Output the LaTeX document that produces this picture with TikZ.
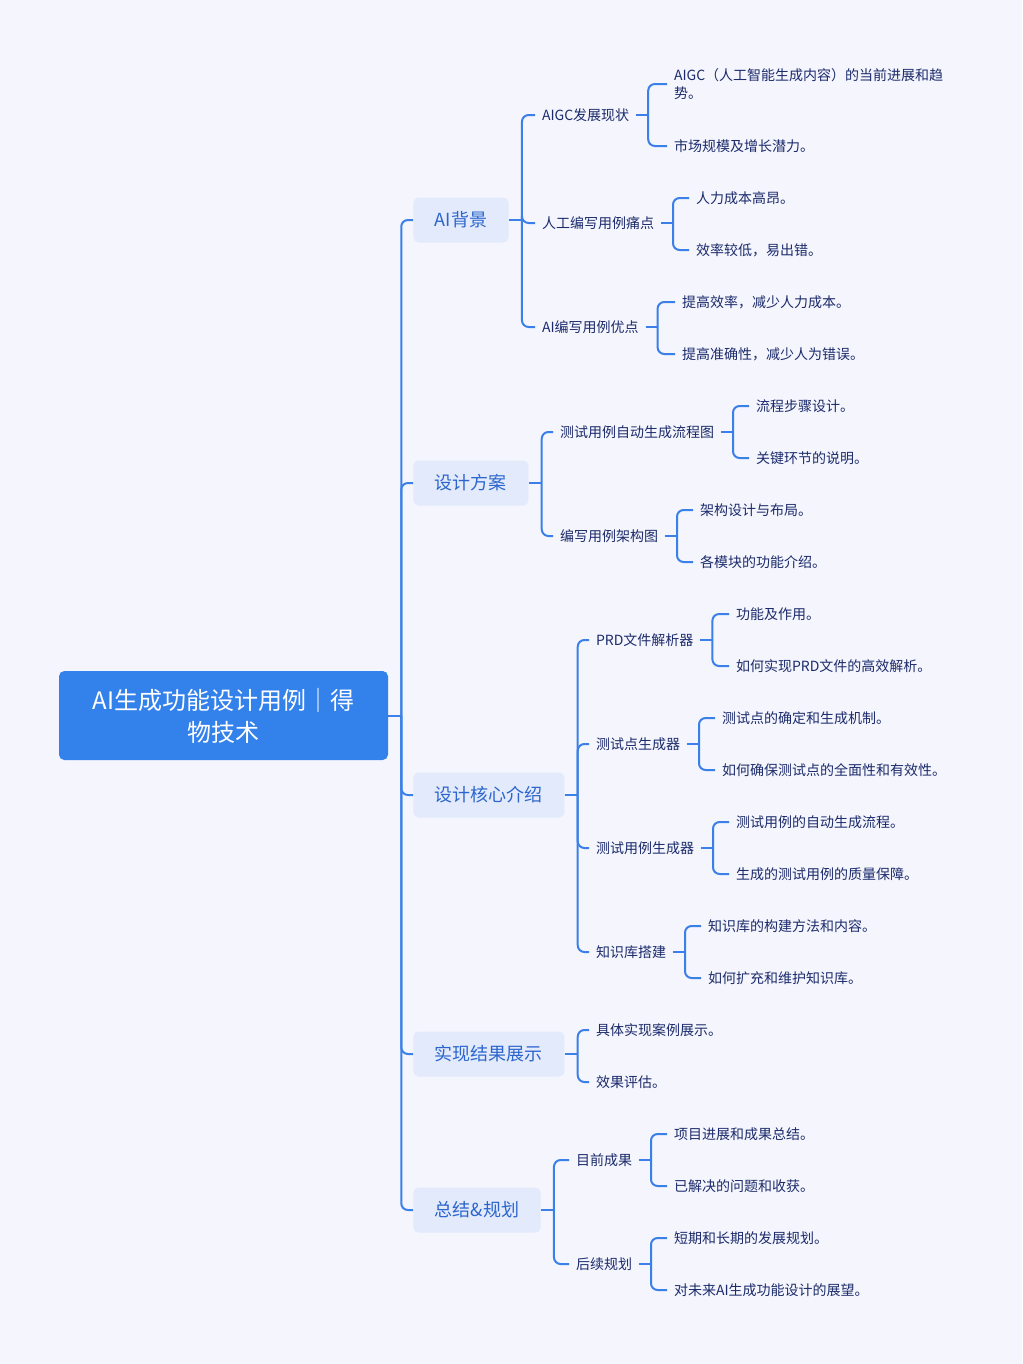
\documentclass[tikz,border=0pt]{standalone}
\usepackage{fontspec}
\setmainfont{Noto Sans CJK SC}
\usetikzlibrary{positioning}
\definecolor{pagebg}{HTML}{F4F5FD}
\definecolor{rootblue}{HTML}{3381EB}
\definecolor{linkblue}{HTML}{3A80E8}
\definecolor{topicfill}{HTML}{E2EAFC}
\definecolor{topictext}{HTML}{2C66CC}
\definecolor{leaftext}{HTML}{1C2B6B}
\tikzset{
  rootbox/.style={fill=rootblue, text=white, rounded corners=4pt, minimum width=246.75pt, minimum height=66.75pt, align=center, font=\fontsize{18pt}{24pt}\selectfont},
  topicbox/.style={anchor=west, fill=topicfill, text=topictext, rounded corners=4pt, minimum height=33.75pt, inner xsep=16.2pt, font=\fontsize{13.5pt}{16pt}\selectfont},
  subitem/.style={anchor=west, text=leaftext, inner xsep=0pt, inner ysep=2pt, outer xsep=5.25pt, align=left, font=\fontsize{10.5pt}{13.5pt}\selectfont},
  link/.style={draw=linkblue, line width=1.5pt, rounded corners=5pt}
}

\begin{document}
\begin{tikzpicture}[x=0.75pt,y=-0.75pt]
    \useasboundingbox[fill=pagebg] (0,0) rectangle (1022,1364);

    \node[rootbox] (root) at (223.5,715.5) {AI生成功能设计用例｜得\\物技术};

    \node[topicbox] (bg) at (413,220) {AI背景};
    \node[topicbox] (fa) at (413,483) {设计方案};
    \node[topicbox] (hx) at (413,795) {设计核心介绍};
    \node[topicbox] (sx) at (413,1054) {实现结果展示};
    \node[topicbox] (zj) at (413,1210) {总结\&规划};

    % AI背景
    \node[subitem] (bgA) at (535,115) {AIGC发展现状};
    \node[subitem] (bgB) at (535,223) {人工编写用例痛点};
    \node[subitem] (bgC) at (535,327) {AI编写用例优点};
    \node[subitem] (bgA1) at (667,84) {AIGC（人工智能生成内容）的当前进展和趋\\势。};
    \node[subitem] (bgA2) at (667,146) {市场规模及增长潜力。};
    \node[subitem] (bgB1) at (689,198) {人力成本高昂。};
    \node[subitem] (bgB2) at (689,250) {效率较低，易出错。};
    \node[subitem] (bgC1) at (675,302) {提高效率，减少人力成本。};
    \node[subitem] (bgC2) at (675,354) {提高准确性，减少人为错误。};

    % 设计方案
    \node[subitem] (faA) at (553,432) {测试用例自动生成流程图};
    \node[subitem] (faB) at (553,536) {编写用例架构图};
    \node[subitem] (faA1) at (749,406) {流程步骤设计。};
    \node[subitem] (faA2) at (749,458) {关键环节的说明。};
    \node[subitem] (faB1) at (693,510) {架构设计与布局。};
    \node[subitem] (faB2) at (693,562) {各模块的功能介绍。};

    % 设计核心介绍
    \node[subitem] (hxA) at (589,640) {PRD文件解析器};
    \node[subitem] (hxB) at (589,744) {测试点生成器};
    \node[subitem] (hxC) at (589,848) {测试用例生成器};
    \node[subitem] (hxD) at (589,952) {知识库搭建};
    \node[subitem] (hxA1) at (729,614) {功能及作用。};
    \node[subitem] (hxA2) at (729,666) {如何实现PRD文件的高效解析。};
    \node[subitem] (hxB1) at (715,718) {测试点的确定和生成机制。};
    \node[subitem] (hxB2) at (715,770) {如何确保测试点的全面性和有效性。};
    \node[subitem] (hxC1) at (729,822) {测试用例的自动生成流程。};
    \node[subitem] (hxC2) at (729,874) {生成的测试用例的质量保障。};
    \node[subitem] (hxD1) at (701,926) {知识库的构建方法和内容。};
    \node[subitem] (hxD2) at (701,978) {如何扩充和维护知识库。};

    % 实现结果展示
    \node[subitem] (sx1) at (589,1030) {具体实现案例展示。};
    \node[subitem] (sx2) at (589,1082) {效果评估。};

    % 总结&规划
    \node[subitem] (zjA) at (569,1160) {目前成果};
    \node[subitem] (zjB) at (569,1264) {后续规划};
    \node[subitem] (zjA1) at (667,1134) {项目进展和成果总结。};
    \node[subitem] (zjA2) at (667,1186) {已解决的问题和收获。};
    \node[subitem] (zjB1) at (667,1238) {短期和长期的发展规划。};
    \node[subitem] (zjB2) at (667,1290) {对未来AI生成功能设计的展望。};

    % connectors
    \draw[link] (root.east) -- ++(13,0) coordinate (rootJ);
    \draw[link] (rootJ) |- (bg.west);
    \draw[link] (rootJ) |- (fa.west);
    \draw[link] (rootJ) |- (hx.west);
    \draw[link] (rootJ) |- (sx.west);
    \draw[link] (rootJ) |- (zj.west);

    \draw[link] (bg.east) -- ++(13,0) coordinate (bgJ);
    \draw[link] (bgJ) |- (bgA.west);
    \draw[link] (bgJ) |- (bgB.west);
    \draw[link] (bgJ) |- (bgC.west);
    \draw[link] (bgA.east) -- ++(12,0) coordinate (bgAJ);
    \draw[link] (bgAJ) |- (bgA1.west);
    \draw[link] (bgAJ) |- (bgA2.west);
    \draw[link] (bgB.east) -- ++(12,0) coordinate (bgBJ);
    \draw[link] (bgBJ) |- (bgB1.west);
    \draw[link] (bgBJ) |- (bgB2.west);
    \draw[link] (bgC.east) -- ++(12,0) coordinate (bgCJ);
    \draw[link] (bgCJ) |- (bgC1.west);
    \draw[link] (bgCJ) |- (bgC2.west);

    \draw[link] (fa.east) -- ++(13,0) coordinate (faJ);
    \draw[link] (faJ) |- (faA.west);
    \draw[link] (faJ) |- (faB.west);
    \draw[link] (faA.east) -- ++(12,0) coordinate (faAJ);
    \draw[link] (faAJ) |- (faA1.west);
    \draw[link] (faAJ) |- (faA2.west);
    \draw[link] (faB.east) -- ++(12,0) coordinate (faBJ);
    \draw[link] (faBJ) |- (faB1.west);
    \draw[link] (faBJ) |- (faB2.west);

    \draw[link] (hx.east) -- ++(13,0) coordinate (hxJ);
    \draw[link] (hxJ) |- (hxA.west);
    \draw[link] (hxJ) |- (hxB.west);
    \draw[link] (hxJ) |- (hxC.west);
    \draw[link] (hxJ) |- (hxD.west);
    \draw[link] (hxA.east) -- ++(12,0) coordinate (hxAJ);
    \draw[link] (hxAJ) |- (hxA1.west);
    \draw[link] (hxAJ) |- (hxA2.west);
    \draw[link] (hxB.east) -- ++(12,0) coordinate (hxBJ);
    \draw[link] (hxBJ) |- (hxB1.west);
    \draw[link] (hxBJ) |- (hxB2.west);
    \draw[link] (hxC.east) -- ++(12,0) coordinate (hxCJ);
    \draw[link] (hxCJ) |- (hxC1.west);
    \draw[link] (hxCJ) |- (hxC2.west);
    \draw[link] (hxD.east) -- ++(12,0) coordinate (hxDJ);
    \draw[link] (hxDJ) |- (hxD1.west);
    \draw[link] (hxDJ) |- (hxD2.west);

    \draw[link] (sx.east) -- ++(13,0) coordinate (sxJ);
    \draw[link] (sxJ) |- (sx1.west);
    \draw[link] (sxJ) |- (sx2.west);

    \draw[link] (zj.east) -- ++(13,0) coordinate (zjJ);
    \draw[link] (zjJ) |- (zjA.west);
    \draw[link] (zjJ) |- (zjB.west);
    \draw[link] (zjA.east) -- ++(12,0) coordinate (zjAJ);
    \draw[link] (zjAJ) |- (zjA1.west);
    \draw[link] (zjAJ) |- (zjA2.west);
    \draw[link] (zjB.east) -- ++(12,0) coordinate (zjBJ);
    \draw[link] (zjBJ) |- (zjB1.west);
    \draw[link] (zjBJ) |- (zjB2.west);
\end{tikzpicture}
\end{document}
